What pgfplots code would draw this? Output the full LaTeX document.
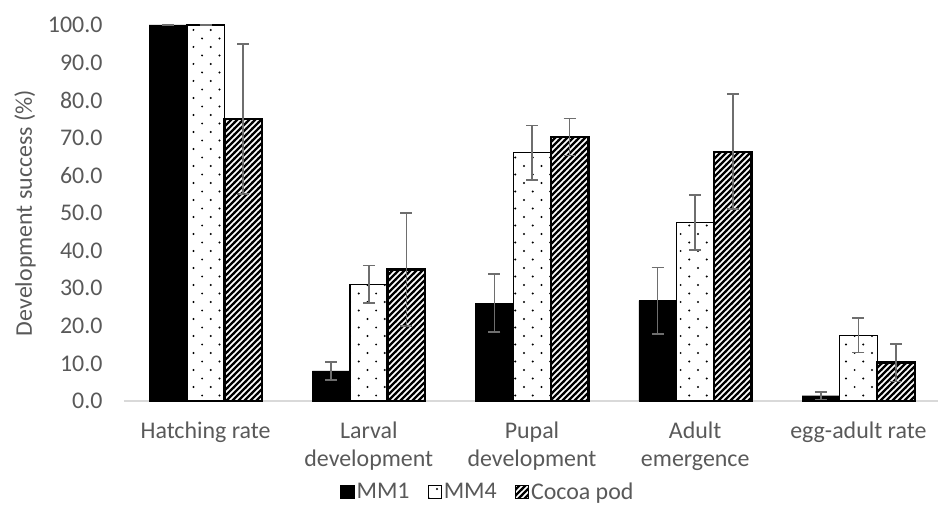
\documentclass[border=0pt]{standalone}
\usepackage{pgfplots}
\pgfplotsset{compat=1.18}
\usepackage{fontspec}
\setmainfont{Carlito}
\usetikzlibrary{patterns}
\definecolor{txtgray}{HTML}{595959}
\definecolor{errgray}{HTML}{6E6E6E}
\definecolor{basegray}{HTML}{D9D9D9}

% sparse offset dots for MM4
\pgfdeclarepatternformonly{sparsedots}{\pgfpoint{-1bp}{-1bp}}{\pgfpoint{18bp}{18bp}}{\pgfpoint{17.4bp}{17bp}}{%
  \pgfpathcircle{\pgfpoint{2bp}{2bp}}{1.1bp}
  \pgfpathcircle{\pgfpoint{10.7bp}{10.5bp}}{1.1bp}
  \pgfusepath{fill}}
% thick diagonal hatch for cocoa pod
\pgfdeclarepatternformonly{thickhatch}{\pgfpoint{-1bp}{-1bp}}{\pgfpoint{7bp}{7bp}}{\pgfpoint{6bp}{6bp}}{%
  \pgfsetlinewidth{2.3bp}
  \pgfpathmoveto{\pgfpoint{-1bp}{-1bp}}
  \pgfpathlineto{\pgfpoint{7bp}{7bp}}
  \pgfusepath{stroke}}

\begin{document}
\begin{tikzpicture}
\begin{axis}[
    name=ax,
    scale only axis,
    width=816bp, height=376bp,
    ybar=0pt, bar width=37.6bp,
    xmin=-0.5, xmax=4.5,
    ymin=0, ymax=100,
    xtick={0,1,2,3,4},
    xticklabels={Hatching rate, Larval\\development, Pupal\\development, Adult\\emergence, egg-adult rate},
    ytick={0,10,...,100},
    major tick length=0pt,
    axis x line*=bottom, axis y line*=left,
    x axis line style={draw=basegray, line width=1.2bp, -},
    y axis line style={draw=none},
    font=\fontsize{24}{28}\selectfont,
    tick label style={text=txtgray, font=\fontsize{24}{28}\selectfont},
    xticklabel style={align=center, yshift=-17bp},
    yticklabel style={xshift=-18bp},
    /pgf/number format/assume math mode=true,
    yticklabel={\pgfmathprintnumber[fixed, fixed zerofill, precision=1]{\tick}},
    ylabel={Development success (\%)},
    every axis y label/.style={at={([xshift=-99bp]axis description cs:0,0.5)},
        anchor=center, rotate=90, text=txtgray},
    legend style={draw=none, text=txtgray, font=\fontsize{24}{28}\selectfont,
        at={(axis description cs:0.446,-0.242)}, anchor=center,
        legend columns=3, column sep=0pt,
        nodes={inner xsep=2bp}},
    legend image code/.code={\draw[#1, line width=1.2bp] (0bp,-6.5bp) rectangle (13bp,6.5bp);},
    error bars/y dir=both, error bars/y explicit,
    error bars/error bar style={errgray, line width=1.6bp},
    error bars/error mark options={errgray, line width=1.6bp, mark size=6bp, rotate=90},
]
% MM1
\addplot[fill=black, draw=black] coordinates {
  (0,100) +- (0,0)
  (1,8.0) +- (0,2.4)
  (2,26.0) +- (0,7.7)
  (3,26.7) +- (0,8.8)
  (4,1.4) +- (0,1.0)
};
% MM4
\addplot[draw=black, line width=1.3bp, pattern=sparsedots, pattern color=black] coordinates {
  (0,100) +- (0,0)
  (1,31.0) +- (0,5.0)
  (2,66.0) +- (0,7.3)
  (3,47.5) +- (0,7.3)
  (4,17.5) +- (0,4.6)
};
% Cocoa pod
\addplot[draw=black, line width=2.4bp, pattern=thickhatch, pattern color=black] coordinates {
  (0,75.0) +- (0,20.0)
  (1,35.0) +- (0,15.0)
  (2,70.2) +- (0,4.9)
  (3,66.3) +- (0,15.3)
  (4,10.2) +- (0,5.0)
};
\legend{MM1\rule{16bp}{0pt}, MM4\rule{16bp}{0pt}, Cocoa pod}
\end{axis}
\pgfresetboundingbox
\path ([shift={(-124bp,-124bp)}]ax.south west) rectangle ([shift={(-2bp,25bp)}]ax.north east);
\end{tikzpicture}
\end{document}
